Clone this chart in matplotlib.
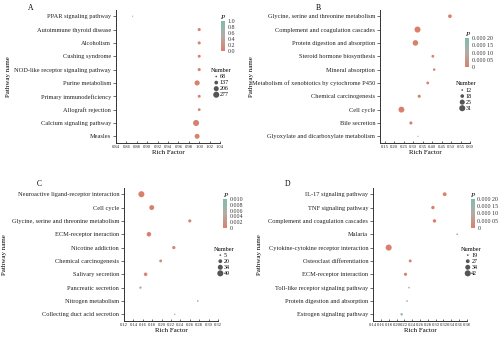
import matplotlib
matplotlib.use("Agg")
import matplotlib.pyplot as plt
import numpy as np
from matplotlib.colors import LinearSegmentedColormap, Normalize
from matplotlib.cm import ScalarMappable

plt.rcParams['font.family'] = ['Liberation Serif', 'DejaVu Serif']

# ---- data ----
a_names = ["PPAR signaling pathway", "Autoimmune thyroid disease", "Alcoholism",
           "Cushing syndrome", "NOD-like receptor signaling pathway", "Purine metabolism",
           "Primary immunodeficiency", "Allograft rejection", "Calcium signaling pathway", "Measles"]
a_rich = [0.872, 1.0, 1.0, 1.0, 1.0, 0.996, 1.0, 1.0, 0.994, 0.996]
a_num = [45, 110, 110, 105, 110, 215, 105, 100, 277, 200]
a_p = [0.55, 0.02, 0.02, 0.02, 0.02, 0.0, 0.02, 0.02, 0.0, 0.0]

b_names = ["Glycine, serine and threonine metabolism", "Complement and coagulation cascades",
           "Protein digestion and absorption", "Steroid hormone biosynthesis", "Mineral absorption",
           "Metabolism of xenobiotics by cytochrome P450", "Chemical carcinogenesis", "Cell cycle",
           "Bile secretion", "Glyoxylate and dicarboxylate metabolism"]
b_rich = [0.494, 0.323, 0.312, 0.404, 0.411, 0.377, 0.332, 0.238, 0.288, 0.326]
b_num = [18, 31, 28, 15, 14, 15, 16, 30, 16, 10]
b_p = [0.0, 0.0, 0.0, 0.00001, 0.00001, 0.00001, 0.00001, 0.0, 0.00001, 0.00012]

c_names = ["Neuroactive ligand-receptor interaction", "Cell cycle",
           "Glycine, serine and threonine metabolism", "ECM-receptor ineraction", "Nicotine addiction",
           "Chemical carcinogenesis", "Salivary secretion", "Pancreatic secretion",
           "Nitrogen metabolism", "Collecting duct acid secretion"]
c_rich = [0.157, 0.179, 0.260, 0.173, 0.226, 0.198, 0.166, 0.155, 0.277, 0.228]
c_num = [49, 33, 14, 28, 15, 12, 18, 8, 5, 4]
c_p = [0.0, 0.0, 0.0005, 0.0, 0.0005, 0.001, 0.0008, 0.003, 0.006, 0.005]

d_names = ["IL-17 signaling pathway", "TNF signaling pathway", "Complement and coagulation cascades",
           "Malaria", "Cytokine-cytokine receptor interaction", "Osteoclast differentiation",
           "ECM-receptor interaction", "Toll-like receptor signaling pathway",
           "Protein digestion and absorption", "Estrogen signaling pathway"]
d_rich = [0.323, 0.293, 0.297, 0.355, 0.180, 0.235, 0.223, 0.232, 0.227, 0.213]
d_num = [27, 25, 25, 19, 42, 23, 24, 19, 19, 21]
d_p = [0.0, 0.0, 0.0, 0.00008, 0.0, 0.00001, 0.00001, 0.00012, 0.00014, 0.00017]

cmap = LinearSegmentedColormap.from_list("p", ["#d9806d", "#b3aca5", "#7fbcb1"])


def sz(n, lo, hi):
    n = np.asarray(n, dtype=float)
    return np.clip(1.5 + (n - lo) / (hi - lo) * 17.5, 0.8, None)


panels = [
    dict(letter="A", names=a_names, rich=a_rich, num=a_num, p=a_p,
         pos=[0.232, 0.5757, 0.208, 0.396], xlim=(0.84, 1.04),
         xticks=np.arange(0.84, 1.041, 0.02), xfmt="{:.2f}",
         vmax=1.0, cticks=[0, 0.2, 0.4, 0.6, 0.8, 1.0],
         clabels=["0.0", "0.2", "0.4", "0.6", "0.8", "1.0"],
         leg=[68, 137, 206, 277], cbx=0.441, cby=0.850, legy=0.80,
         letter_xy=(0.062, 0.988), ylab_x=0.018),
    dict(letter="B", names=b_names, rich=b_rich, num=b_num, p=b_p,
         pos=[0.760, 0.5757, 0.180, 0.396], xlim=(0.125, 0.60),
         xticks=np.arange(0.15, 0.601, 0.05), xfmt="{:.2f}",
         vmax=0.0002, cticks=[0, 0.00005, 0.0001, 0.00015, 0.0002],
         clabels=["0", "0.000 05", "0.000 10", "0.000 15", "0.000 20"],
         leg=[12, 18, 25, 31], cbx=0.930, cby=0.80, legy=0.76,
         letter_xy=(0.636, 0.988), ylab_x=0.503),
    dict(letter="C", names=c_names, rich=c_rich, num=c_num, p=c_p,
         pos=[0.248, 0.0475, 0.188, 0.396], xlim=(0.12, 0.32),
         xticks=np.arange(0.12, 0.321, 0.02), xfmt="{:.2f}",
         vmax=0.010, cticks=[0, 0.002, 0.004, 0.006, 0.008, 0.010],
         clabels=["0", "0.002", "0.004", "0.006", "0.008", "0.010"],
         leg=[5, 20, 34, 49], cbx=0.446, cby=0.323, legy=0.27,
         letter_xy=(0.078, 0.466), ylab_x=0.010),
    dict(letter="D", names=d_names, rich=d_rich, num=d_num, p=d_p,
         pos=[0.746, 0.0475, 0.188, 0.396], xlim=(0.14, 0.38),
         xticks=np.arange(0.14, 0.381, 0.02), xfmt="{:.2f}",
         vmax=0.0002, cticks=[0, 0.00005, 0.0001, 0.00015, 0.0002],
         clabels=["0", "0.000 05", "0.000 10", "0.000 15", "0.000 20"],
         leg=[19, 27, 34, 42], cbx=0.941, cby=0.323, legy=0.27,
         letter_xy=(0.576, 0.466), ylab_x=0.518),
]

fig = plt.figure(figsize=(5, 3.37), dpi=100)
fig.patch.set_facecolor("white")

for pn in panels:
    ax = fig.add_axes(pn["pos"])
    y = np.arange(len(pn["names"]))[::-1] + 1
    lo, hi = pn["leg"][0], pn["leg"][-1]
    norm = Normalize(0, pn["vmax"])
    ax.scatter(pn["rich"], y, s=sz(pn["num"], lo, hi), c=pn["p"], cmap=cmap, norm=norm,
               edgecolors="none", zorder=3)
    ax.set_xlim(*pn["xlim"])
    ax.set_ylim(0.5, 10.5)
    ax.set_yticks(y)
    ax.set_yticklabels(pn["names"], fontsize=4.6)
    ax.set_xticks(pn["xticks"])
    ax.set_xticklabels([pn["xfmt"].format(v) for v in pn["xticks"]], fontsize=3.3)
    for s in ["top", "right"]:
        ax.spines[s].set_visible(False)
    for s in ["left", "bottom"]:
        ax.spines[s].set_linewidth(0.7)
        ax.spines[s].set_color("#333333")
    ax.tick_params(axis="y", length=2, width=0.5, pad=1.5, colors="#333333", labelcolor="#222222")
    ax.tick_params(axis="x", direction="in", length=1.5, width=0.5, pad=1.5, colors="#333333",
                   labelcolor="#222222")
    ax.set_xlabel("Rich Factor", fontsize=5, labelpad=1)
    fig.text(pn["ylab_x"], pn["pos"][1] + pn["pos"][3] / 2, "Pathway name", rotation=90,
             fontsize=5, ha="center", va="center")
    fig.text(pn["letter_xy"][0], pn["letter_xy"][1], pn["letter"], fontsize=5.5,
             ha="center", va="top")

    # colour bar
    cax = fig.add_axes([pn["cbx"], pn["cby"], 0.008, 0.087])
    cb = fig.colorbar(ScalarMappable(norm=norm, cmap=cmap), cax=cax)
    cb.outline.set_visible(False)
    cb.set_ticks(pn["cticks"])
    cb.set_ticklabels(pn["clabels"])
    cax.tick_params(labelsize=4.3, length=1.2, width=0.4, pad=0.8, colors="#ffffff",
                    labelcolor="#333333")
    cax.set_title("P", fontsize=5, style="italic", pad=1.5, loc="left")

    # size legend
    handles = [ax.scatter([], [], s=sz(v, lo, hi), color="#555555", edgecolors="none")
               for v in pn["leg"]]
    fig.legend(handles, [str(v) for v in pn["leg"]], title="Number", loc="upper left",
               bbox_to_anchor=(pn["cbx"] - 0.02, pn["legy"]), frameon=False, fontsize=4.3,
               title_fontsize=4.5, handletextpad=0.2, labelspacing=0.15, borderpad=0.1,
               handlelength=0.8, borderaxespad=0)

fig.savefig("out.png", dpi=100, facecolor="white")
